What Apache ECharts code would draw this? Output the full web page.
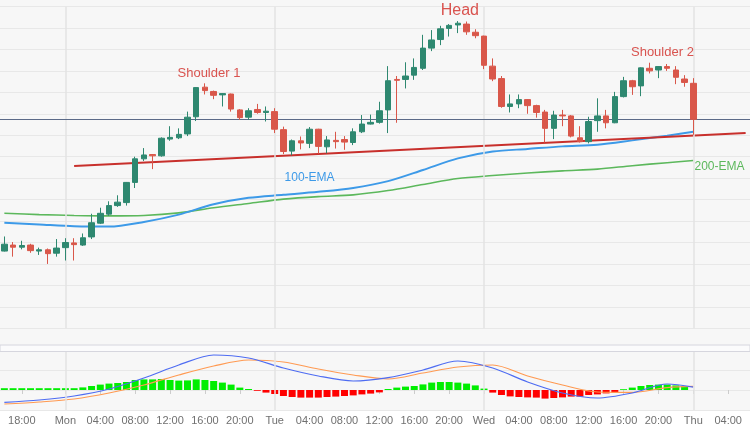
<!DOCTYPE html>
<html><head><meta charset="utf-8">
<script src="https://cdn.jsdelivr.net/npm/echarts@6/dist/echarts.min.js"></script>
<style>html,body{margin:0;padding:0;background:#fff}#c{width:750px;height:430px}</style>
</head><body><div id="c"></div>
<script>
// hourly categories (weekend gap after 20:00)
const categories = [
 "16:00","17:00","18:00","19:00","20:00","22:00","23:00",
 "Mon","01:00","02:00","03:00","04:00","05:00","06:00","07:00","08:00","09:00","10:00","11:00","12:00","13:00","14:00","15:00","16:00","17:00","18:00","19:00","20:00","21:00","22:00","23:00",
 "Tue","01:00","02:00","03:00","04:00","05:00","06:00","07:00","08:00","09:00","10:00","11:00","12:00","13:00","14:00","15:00","16:00","17:00","18:00","19:00","20:00","21:00","22:00","23:00",
 "Wed","01:00","02:00","03:00","04:00","05:00","06:00","07:00","08:00","09:00","10:00","11:00","12:00","13:00","14:00","15:00","16:00","17:00","18:00","19:00","20:00","21:00","22:00","23:00",
 "Thu","01:00","02:00","03:00","04:00","05:00","06:00"
];
const tickLabelIndices = [2,7,11,15,19,23,27,31,35,39,43,47,51,55,59,63,67,71,75,79,83];
const dayIndices = [7,31,55,79];

// [open, close, low, high]
const candles = [
 [1918.0,1919.6,1917.9,1921.4],[1919.4,1918.9,1916.7,1920.1],[1918.9,1919.3,1918.4,1920.4],[1919.4,1918.1,1917.6,1919.7],
 [1918.0,1918.3,1917.1,1918.8],[1918.3,1917.4,1915.0,1918.6],[1917.5,1918.7,1916.7,1920.8],[1918.8,1920.0,1915.8,1921.0],
 [1919.9,1919.5,1915.8,1921.0],[1919.4,1921.1,1919.2,1922.1],[1921.3,1924.6,1920.8,1926.7],[1924.5,1926.8,1924.3,1928.1],
 [1926.6,1928.6,1926.2,1929.6],[1928.6,1929.4,1928.3,1931.0],[1929.3,1934.0,1928.6,1934.1],[1934.0,1939.5,1932.7,1940.0],
 [1939.5,1940.4,1939.0,1942.0],[1940.5,1940.2,1937.1,1940.6],[1940.2,1944.3,1940.0,1944.5],[1944.1,1944.5,1943.7,1947.1],
 [1944.4,1945.2,1944.1,1946.6],[1945.3,1949.2,1944.8,1950.5],[1949.3,1956.1,1948.3,1956.2],[1956.2,1955.4,1954.5,1957.1],
 [1955.2,1954.3,1953.4,1955.4],[1954.4,1954.7,1951.7,1954.8],[1954.6,1951.1,1950.5,1954.7],[1950.9,1949.1,1948.6,1951.1],
 [1949.2,1950.7,1948.6,1951.3],[1951.0,1950.3,1950.0,1952.3],[1950.3,1950.6,1948.2,1951.7],[1950.5,1946.4,1945.5,1951.3],
 [1946.3,1941.2,1940.6,1947.0],[1941.3,1943.7,1940.3,1944.0],[1943.7,1943.2,1941.7,1944.7],[1943.1,1946.4,1942.0,1946.9],
 [1946.4,1942.4,1940.7,1946.5],[1942.3,1943.9,1940.8,1944.8],[1943.8,1943.5,1941.9,1945.8],[1944.0,1943.4,1941.6,1944.8],
 [1943.3,1945.8,1942.7,1946.6],[1945.8,1947.6,1945.5,1949.7],[1947.6,1948.0,1947.5,1949.8],[1948.0,1950.7,1947.7,1952.8],
 [1950.9,1957.7,1945.5,1961.1],[1958.0,1957.8,1947.9,1958.8],[1958.0,1958.8,1955.9,1962.0],[1959.0,1960.8,1957.9,1962.9],
 [1960.6,1965.3,1960.2,1968.4],[1965.3,1967.2,1964.6,1969.5],[1967.3,1969.8,1966.0,1970.5],[1969.9,1970.6,1968.0,1970.9],
 [1970.7,1971.1,1968.8,1971.6],[1970.9,1969.1,1968.4,1971.5],[1969.0,1968.2,1967.6,1969.7],[1968.1,1961.3,1960.4,1968.2],
 [1961.1,1958.1,1957.6,1962.9],[1958.2,1951.7,1951.4,1958.8],[1951.7,1952.3,1950.3,1954.5],[1952.3,1953.3,1951.3,1954.5],
 [1953.3,1951.9,1950.0,1953.4],[1951.9,1950.3,1949.1,1952.1],[1950.4,1946.6,1943.3,1950.9],[1946.6,1949.7,1944.1,1950.7],
 [1949.7,1949.5,1947.1,1950.9],[1949.5,1944.8,1944.5,1949.7],[1944.4,1943.5,1943.3,1947.1],[1943.5,1948.2,1943.1,1949.3],
 [1948.4,1949.5,1945.8,1953.6],[1949.5,1947.9,1946.6,1950.9],[1947.9,1954.0,1947.8,1955.1],[1954.0,1957.7,1953.8,1958.6],
 [1957.7,1956.3,1954.4,1957.9],[1956.5,1960.7,1954.1,1960.8],[1960.6,1960.0,1959.4,1961.9],[1960.2,1961.0,1958.3,1961.1],
 [1961.0,1960.6,1960.0,1961.6],[1960.2,1958.5,1956.9,1961.1],[1958.1,1957.3,1956.3,1959.0],[1957.1,1948.7,1945.1,1958.3]
];
const lastPrice = 1948.7;

// moving averages, read at sampled candles
const emaIndex = [0,4,8,12,16,20,24,28,32,36,40,44,48,52,56,60,64,68,72,76,79];
const ema100 = [1924.6,1924.2,1923.8,1923.7,1924.8,1926.5,1928.9,1930.4,1931.1,1931.8,1932.7,1934.3,1936.9,1939.6,1941.2,1941.8,1942.4,1942.8,1943.8,1944.9,1945.8];
const ema200 = [1926.8,1926.5,1926.3,1926.2,1926.3,1926.9,1928.1,1929.1,1930.1,1930.7,1931.1,1932.1,1933.5,1934.9,1935.6,1936.2,1936.7,1937.1,1937.9,1938.6,1939.1];

// neckline end points [index, price]
const neckline = [[8,1937.8],[85,1945.5]];

// annotations [index, price, text]
const notes = [[23,1959.5,"Shoulder 1"],[52,1974.1,"Head"],[75,1964.4,"Shoulder 2"]];

// MACD panel
const macdIndex = emaIndex;
const macdLine   = [-0.62,-0.5,-0.3,0.05,0.6,1.25,1.75,1.6,1.1,0.7,0.45,0.62,1.0,1.45,1.1,0.4,-0.15,-0.4,-0.15,0.3,0.14];
const signalLine = [-0.7,-0.6,-0.45,-0.15,0.25,0.75,1.2,1.5,1.4,1.05,0.75,0.55,0.85,1.15,1.25,0.7,0.25,-0.1,-0.12,0.12,0.18];
const histogram = [
 0.09,0.09,0.09,0.09,0.09,0.09,0.09,0.09,0.09,0.13,0.2,0.27,0.32,0.35,0.4,0.5,0.53,0.53,0.55,0.5,
 0.47,0.48,0.53,0.5,0.45,0.37,0.27,0.12,0.05,-0.04,-0.13,-0.2,-0.3,-0.35,-0.38,-0.38,-0.38,-0.35,-0.33,-0.3,
 -0.27,-0.22,-0.18,-0.12,0.05,0.12,0.17,0.2,0.28,0.37,0.4,0.4,0.37,0.32,0.23,0.07,-0.13,-0.25,-0.32,-0.35,
 -0.37,-0.38,-0.43,-0.4,-0.37,-0.33,-0.33,-0.25,-0.22,-0.17,-0.13,0.04,0.12,0.2,0.25,0.27,0.27,0.23,0.2,0
];

const UP = '#2e8870', DOWN = '#d9574a', NOTE = '#d9534f';
const tickSet = new Set(tickLabelIndices);
const pair = (idx, vals) => idx.map((k, j) => [k, vals[j]]);
const font = "'Liberation Sans', Arial, sans-serif";
const dayLines = (color) => ({
  silent: true, symbol: 'none', label: {show: false},
  lineStyle: {color: color, type: 'solid', width: 1.5},
  data: dayIndices.map(d => ({xAxis: d}))
});

const chart = echarts.init(document.getElementById('c'), null, {renderer: 'canvas'});
chart.setOption({
  animation: false,
  backgroundColor: '#f7f7f7',
  textStyle: {fontFamily: font},
  grid: [
    {left: -1, width: 751, top: 6.5, height: 321.8},
    {left: -1, width: 751, top: 350, height: 60}
  ],
  xAxis: [
    {type: 'category', gridIndex: 0, data: categories, boundaryGap: true,
     axisLine: {show: false}, axisTick: {show: false}, axisLabel: {show: false}, splitLine: {show: false}},
    {type: 'category', gridIndex: 1, data: categories, boundaryGap: true,
     axisLine: {show: false},
     axisTick: {show: true, alignWithLabel: true, length: 4, interval: (i) => tickSet.has(i), lineStyle: {color: '#cccccc'}},
     axisLabel: {show: true, interval: (i) => tickSet.has(i), color: '#707070', fontSize: 11, margin: 5, fontFamily: font,
                 showMinLabel: true, showMaxLabel: true, hideOverlap: false},
     splitLine: {show: false}}
  ],
  yAxis: [
    {type: 'value', gridIndex: 0, min: 1900, max: 1975, interval: 5, scale: true,
     axisLine: {show: false}, axisTick: {show: false}, axisLabel: {show: false},
     splitLine: {show: true, lineStyle: {color: '#e8e8e8', width: 1}}},
    {type: 'value', gridIndex: 1, min: -1, max: 2, interval: 1,
     axisLine: {show: false}, axisTick: {show: false}, axisLabel: {show: false},
     splitLine: {show: true, lineStyle: {color: '#e8e8e8', width: 1}}}
  ],
  series: [
    {type: 'line', xAxisIndex: 0, yAxisIndex: 0, data: [], z: 1, markLine: dayLines('#e3e3e3')},
    {type: 'line', xAxisIndex: 1, yAxisIndex: 1, data: [], z: 1, markLine: dayLines('#e3e3e3')},
    {type: 'line', name: '200-EMA', xAxisIndex: 0, yAxisIndex: 0, data: pair(emaIndex, ema200),
     smooth: 0.3, symbol: 'none', lineStyle: {color: '#5cb85c', width: 1.6}, z: 3},
    {type: 'line', name: '100-EMA', xAxisIndex: 0, yAxisIndex: 0, data: pair(emaIndex, ema100),
     smooth: 0.3, symbol: 'none', lineStyle: {color: '#3d9ae8', width: 2}, z: 3},
    {type: 'line', name: 'neckline', xAxisIndex: 0, yAxisIndex: 0, data: neckline,
     symbol: 'none', lineStyle: {color: '#c8302c', width: 2}, z: 4},
    {type: 'candlestick', xAxisIndex: 0, yAxisIndex: 0, data: candles, barWidth: 6, z: 5,
     itemStyle: {color: UP, color0: DOWN, borderColor: UP, borderColor0: DOWN, borderWidth: 1},
     markLine: {silent: true, symbol: 'none', label: {show: false},
       lineStyle: {color: '#5b6a88', type: 'solid', width: 1}, data: [{yAxis: lastPrice}]},
     markPoint: {silent: true, symbol: 'circle', symbolSize: 1, itemStyle: {color: 'rgba(0,0,0,0)'},
       data: [
         {coord: [notes[0][0], notes[0][1]], label: {show: true, formatter: notes[0][2], position: 'inside', offset: [4,0], color: NOTE, fontSize: 13, fontFamily: font}},
         {coord: [notes[1][0], notes[1][1]], label: {show: true, formatter: notes[1][2], position: 'inside', offset: [2,0], color: NOTE, fontSize: 16, fontFamily: font}},
         {coord: [notes[2][0], notes[2][1]], label: {show: true, formatter: notes[2][2], position: 'inside', offset: [4,0], color: NOTE, fontSize: 13, fontFamily: font}},
         {coord: [35, 1935.0], label: {show: true, formatter: '100-EMA', position: 'inside', color: '#3d9ae8', fontSize: 12, fontFamily: font}},
         {coord: [82, 1937.7], label: {show: true, formatter: '200-EMA', position: 'inside', color: '#5cb85c', fontSize: 12, fontFamily: font}}
       ]}},
    {type: 'bar', xAxisIndex: 1, yAxisIndex: 1, data: histogram, barWidth: 7, z: 3,
     itemStyle: {color: (p) => p.value >= 0 ? '#00ee00' : '#ff0000'}},
    {type: 'line', xAxisIndex: 1, yAxisIndex: 1, data: pair(macdIndex, signalLine),
     smooth: 0.3, symbol: 'none', lineStyle: {color: '#ff9a52', width: 1.2}, z: 4},
    {type: 'line', xAxisIndex: 1, yAxisIndex: 1, data: pair(macdIndex, macdLine),
     smooth: 0.3, symbol: 'none', lineStyle: {color: '#4e6cf2', width: 1.2}, z: 4}
  ],
  graphic: [
    {type: 'rect', shape: {x: 0, y: 410, width: 750, height: 20}, style: {fill: '#ffffff'}, z: -10, silent: true},
    {type: 'rect', shape: {x: 0, y: 345, width: 750, height: 6.5}, style: {fill: '#fbfbfc', stroke: '#d6d6de', lineWidth: 1}, z: 10, silent: true},
    {type: 'group', z: 11, silent: true, children: [
      {type: 'line', shape: {x1: 341, y1: 347.5, x2: 357, y2: 347.5}, style: {stroke: '#999999', lineWidth: 1}},
      {type: 'line', shape: {x1: 341, y1: 349.5, x2: 357, y2: 349.5}, style: {stroke: '#999999', lineWidth: 1}}
    ]}
  ]
});
</script></body></html>
